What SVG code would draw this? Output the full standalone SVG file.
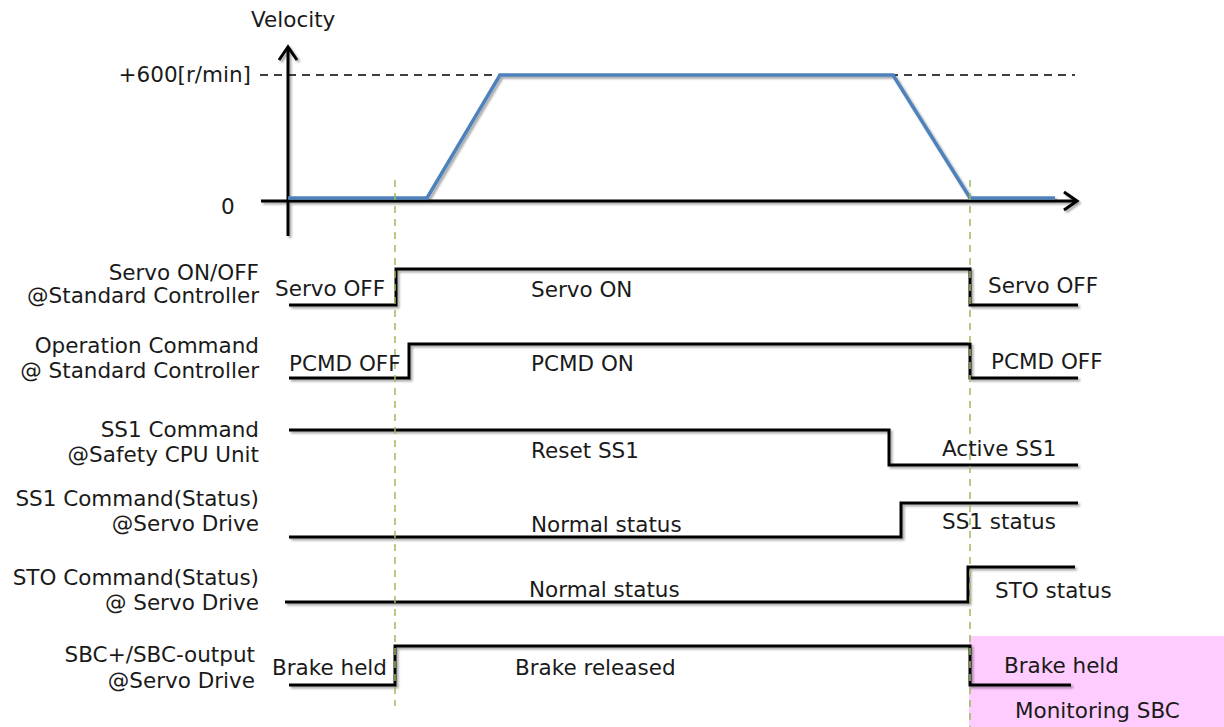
<svg xmlns="http://www.w3.org/2000/svg" width="1224" height="727" viewBox="0 0 1224 727">
<style>
text{font-family:"DejaVu Sans",Verdana,sans-serif;font-size:21.5px;fill:#1a1a1a}
.lbl{text-anchor:end}
.sig{fill:none;stroke:#000;stroke-width:3;stroke-linejoin:miter}
.guide{stroke:#9bbb59;stroke-width:1.5;stroke-dasharray:7,6;fill:none}
.axis{stroke:#000;stroke-width:3;fill:none}
</style>
<defs>
<filter id="sh" x="-5%" y="-20%" width="110%" height="140%">
<feGaussianBlur in="SourceAlpha" stdDeviation="1.2"/>
<feOffset dx="1.5" dy="2" result="o"/>
<feComponentTransfer><feFuncA type="linear" slope="0.35"/></feComponentTransfer>
<feMerge><feMergeNode/><feMergeNode in="SourceGraphic"/></feMerge>
</filter>
</defs>
<rect x="969" y="636" width="255" height="91" fill="#ffccff"/>
<g id="chart">
<text x="251" y="27">Velocity</text>
<text class="lbl" x="251" y="82">+600[r/min]</text>
<text x="221" y="214">0</text>
<line x1="260" y1="75" x2="1075" y2="75" stroke="#000" stroke-width="1.5" stroke-dasharray="8,6"/>
<g filter="url(#sh)">
<line class="axis" x1="288" y1="236" x2="288" y2="48"/>
<polyline class="axis" points="279,60 288,47 297,60"/>
<line class="axis" x1="261" y1="201" x2="1076" y2="201"/>
<polyline class="axis" points="1064,192 1077,201 1064,210"/>
<polyline points="288,198 427,198 500,75 893,75 970,198 1055,198" fill="none" stroke="#4f81bd" stroke-width="3.5"/>
</g>
</g>
<g id="labels">
<text class="lbl" x="259" y="280">Servo ON/OFF</text>
<text class="lbl" x="259" y="303">@Standard Controller</text>
<text class="lbl" x="259" y="353">Operation Command</text>
<text class="lbl" x="259" y="378">@ Standard Controller</text>
<text class="lbl" x="259" y="437">SS1 Command</text>
<text class="lbl" x="259" y="462">@Safety CPU Unit</text>
<text class="lbl" x="259" y="506">SS1 Command(Status)</text>
<text class="lbl" x="259" y="531">@Servo Drive</text>
<text class="lbl" x="259" y="585">STO Command(Status)</text>
<text class="lbl" x="259" y="610">@ Servo Drive</text>
<text class="lbl" x="255" y="662">SBC+/SBC-output</text>
<text class="lbl" x="255" y="688">@Servo Drive</text>
</g>
<g id="signals" filter="url(#sh)">
<polyline class="sig" points="289,305 396,305 396,269 970,269 970,305 1078,305"/>
<polyline class="sig" points="289,378 409,378 409,344 970,344 970,378 1078,378"/>
<polyline class="sig" points="289,430 889,430 889,465 1078,465"/>
<polyline class="sig" points="289,537 901,537 901,503 1078,503"/>
<polyline class="sig" points="285,602 968,602 968,567 1075,567"/>
<polyline class="sig" points="289,685 395,685 395,646 970,646 970,685 1071,685"/>
</g>
<g id="guides">
<line class="guide" x1="395" y1="180" x2="395" y2="706"/>
<line class="guide" x1="970" y1="180" x2="970" y2="727"/>
</g>
<g id="states">
<text x="275" y="296">Servo OFF</text>
<text x="531" y="297">Servo ON</text>
<text x="988" y="293">Servo OFF</text>
<text x="289" y="371">PCMD OFF</text>
<text x="531" y="371">PCMD ON</text>
<text x="991" y="369">PCMD OFF</text>
<text x="531" y="458">Reset SS1</text>
<text x="942" y="456">Active SS1</text>
<text x="531" y="532">Normal status</text>
<text x="942" y="529">SS1 status</text>
<text x="529" y="597">Normal status</text>
<text x="995" y="598">STO status</text>
<text x="272" y="675">Brake held</text>
<text x="515" y="675">Brake released</text>
<text x="1004" y="673">Brake held</text>
<text x="1015" y="718">Monitoring SBC</text>
</g>
</svg>
